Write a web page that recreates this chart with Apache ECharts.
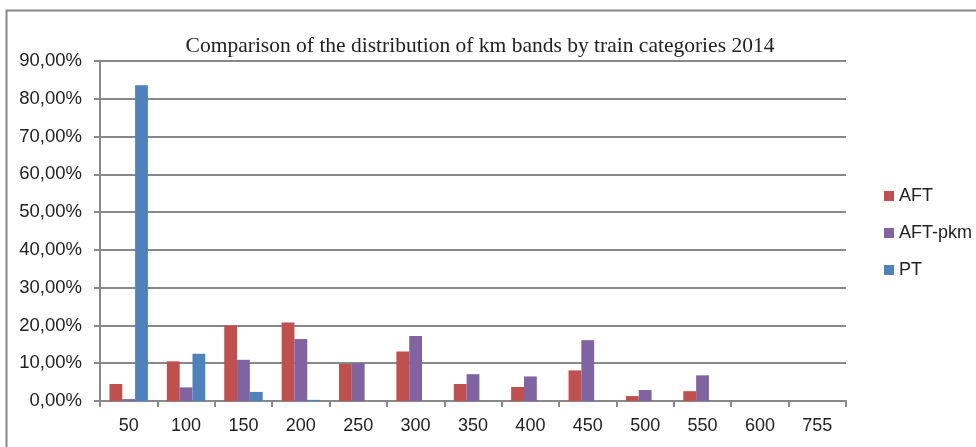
<!DOCTYPE html>
<html>
<head>
<meta charset="utf-8">
<script src="https://cdn.jsdelivr.net/npm/echarts@6/dist/echarts.min.js"></script>
<style>
    html, body { margin: 0; padding: 0; background: #fff; }
    #chart { width: 976px; height: 447px; }
</style>
</head>
<body>
<div id="chart"></div>
<script>
// km bands
var categories = ['50', '100', '150', '200', '250', '300', '350', '400', '450', '500', '550', '600', '755'];
// shares in %
var aft    = [4.5, 10.5, 20.0, 20.8, 9.8, 13.1, 4.5, 3.7, 8.1, 1.3, 2.6, 0, 0];
var aftPkm = [0.5, 3.6, 10.9, 16.4, 10.0, 17.2, 7.1, 6.5, 16.1, 2.9, 6.8, 0, 0];
var pt     = [83.6, 12.5, 2.4, 0.3, 0, 0, 0, 0, 0, 0, 0, 0, 0];

var myChart = echarts.init(document.getElementById('chart'));

function fmt(v) {
    return v.toFixed(2).replace('.', ',') + '%';
}

var option = {
    animation: false,
    title: {
        text: 'Comparison of the distribution of km bands by train categories 2014',
        left: 475,
        textAlign: 'center',
        top: 30,
        textStyle: {
            fontFamily: 'Liberation Serif',
            fontWeight: 'normal',
            fontSize: 21.5,
            color: '#222'
        }
    },
    graphic: [{
        type: 'rect',
        shape: { x: 6.5, y: 10.5, width: 1000, height: 500 },
        style: { fill: 'none', stroke: '#888', lineWidth: 2 },
        silent: true
    }],
    legend: {
        orient: 'vertical',
        left: 879,
        top: 182,
        itemWidth: 10,
        itemHeight: 10,
        itemGap: 19,
        icon: 'rect',
        textStyle: {
            fontFamily: 'Liberation Sans',
            fontSize: 18,
            color: '#222',
            padding: [0, 0, 0, 0]
        },
        data: ['AFT', 'AFT-pkm', 'PT']
    },
    grid: {
        left: 100,
        right: 130,
        top: 61,
        bottom: 46,
        containLabel: false
    },
    xAxis: {
        type: 'category',
        data: categories,
        axisLine: { lineStyle: { color: '#888', width: 2 } },
        axisTick: { show: true, length: 6, lineStyle: { color: '#888', width: 2 } },
        axisLabel: {
            margin: 16,
            fontFamily: 'Liberation Sans',
            fontSize: 18,
            color: '#222'
        }
    },
    yAxis: {
        type: 'value',
        min: 0,
        max: 90,
        interval: 10,
        axisLine: { show: true, lineStyle: { color: '#888', width: 2 } },
        axisTick: { show: true, length: 6, lineStyle: { color: '#888', width: 2 } },
        splitLine: { lineStyle: { color: '#888', width: 2 } },
        axisLabel: {
            margin: 18,
            fontFamily: 'Liberation Sans',
            fontSize: 18.5,
            color: '#222',
            formatter: fmt
        }
    },
    series: [
        {
            name: 'AFT',
            type: 'bar',
            data: aft,
            barGap: '0%',
            barCategoryGap: '33%',
            itemStyle: { color: '#C0504D' }
        },
        {
            name: 'AFT-pkm',
            type: 'bar',
            data: aftPkm,
            itemStyle: { color: '#8064A2' }
        },
        {
            name: 'PT',
            type: 'bar',
            data: pt,
            itemStyle: { color: '#4F81BD' }
        }
    ]
};

myChart.setOption(option);
window.addEventListener('resize', function () { myChart.resize(); });
</script>
</body>
</html>
